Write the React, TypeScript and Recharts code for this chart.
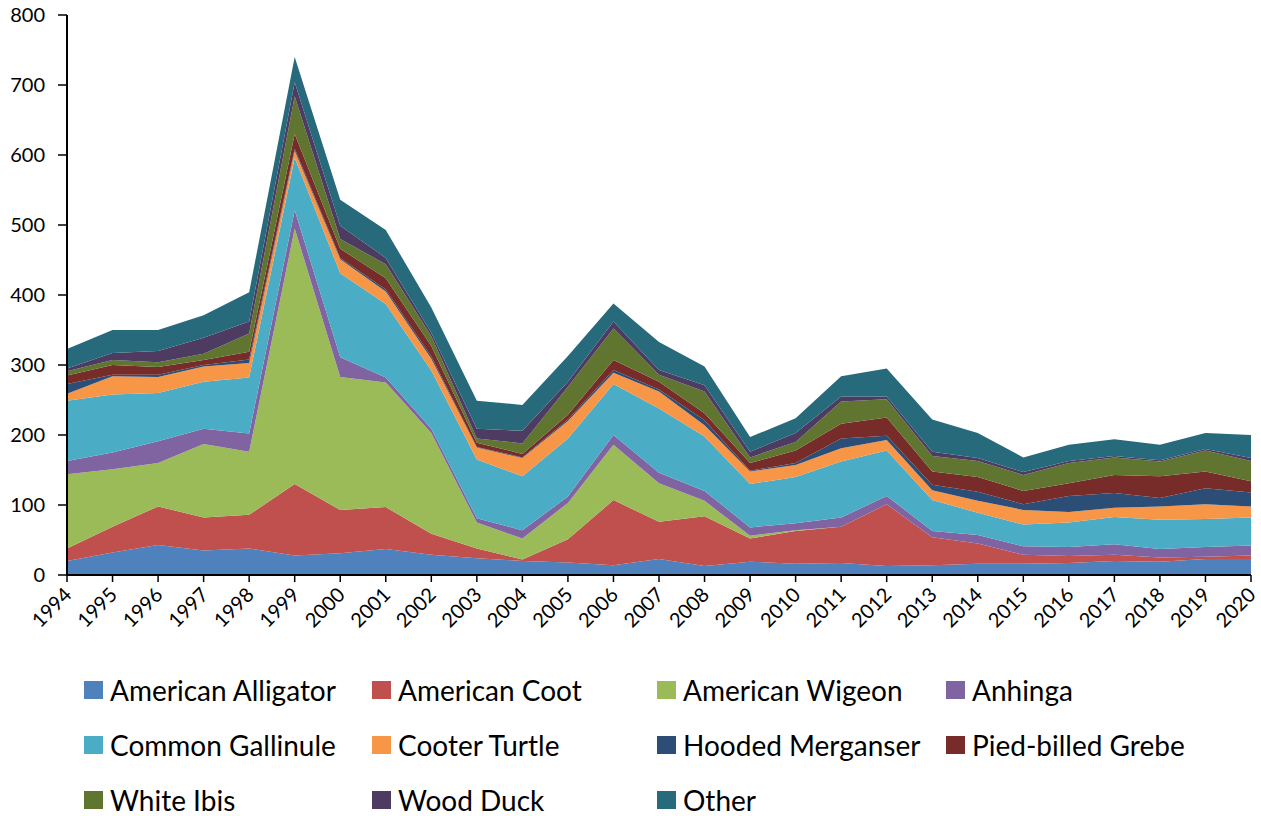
import { AreaChart, Area, XAxis, YAxis, Legend } from 'recharts'

const years = [
  1994, 1995, 1996, 1997, 1998, 1999, 2000, 2001, 2002, 2003, 2004, 2005, 2006,
  2007, 2008, 2009, 2010, 2011, 2012, 2013, 2014, 2015, 2016, 2017, 2018, 2019, 2020,
]

const alligator = [20, 32, 43, 35, 38, 28, 31, 37, 29, 24, 20, 18, 14, 23, 13, 19, 16, 17, 13, 14, 16, 16, 17, 20, 19, 23, 23]
const coot = [18, 37, 55, 47, 48, 102, 62, 60, 30, 14, 2, 33, 93, 53, 71, 33, 47, 52, 88, 40, 29, 13, 10, 9, 6, 3, 5]
const wigeon = [106, 82, 62, 105, 90, 365, 190, 178, 144, 37, 30, 52, 79, 55, 22, 4, 1, 0, 0, 0, 0, 0, 0, 0, 0, 0, 0]
const anhinga = [19, 24, 31, 22, 26, 26, 28, 7, 6, 6, 12, 9, 14, 15, 14, 12, 10, 13, 12, 9, 12, 12, 13, 15, 12, 14, 14]
const gallinule = [86, 83, 69, 67, 80, 75, 120, 105, 83, 84, 77, 83, 73, 92, 78, 62, 66, 80, 65, 44, 32, 31, 35, 39, 42, 40, 40]
const cooter = [10, 26, 23, 22, 21, 10, 20, 18, 17, 17, 26, 25, 16, 24, 16, 18, 17, 19, 15, 14, 17, 21, 15, 13, 19, 21, 16]
const merganser = [14, 2, 3, 2, 5, 3, 2, 3, 3, 1, 1, 2, 4, 3, 7, 1, 3, 14, 6, 8, 13, 8, 23, 21, 12, 23, 20]
const grebe = [12, 14, 11, 7, 11, 21, 13, 16, 15, 6, 5, 7, 14, 11, 10, 11, 18, 21, 26, 19, 21, 19, 18, 26, 31, 24, 16]
const ibis = [6, 7, 7, 9, 26, 54, 14, 20, 14, 6, 15, 40, 45, 10, 31, 8, 12, 32, 26, 22, 23, 23, 29, 25, 21, 30, 29]
const woodDuck = [4, 10, 16, 23, 17, 20, 19, 9, 5, 14, 18, 7, 10, 7, 9, 8, 13, 7, 4, 6, 4, 4, 3, 2, 2, 2, 4]
const other = [28, 33, 30, 32, 42, 36, 37, 40, 36, 40, 37, 37, 26, 40, 27, 21, 21, 29, 40, 46, 36, 21, 23, 24, 22, 23, 33]

const yTicks = [0, 100, 200, 300, 400, 500, 600, 700, 800]

const series = [
  { key: 'alligator', name: 'American Alligator', color: '#4F81BD', values: alligator },
  { key: 'coot', name: 'American Coot', color: '#C0504D', values: coot },
  { key: 'wigeon', name: 'American Wigeon', color: '#9BBB59', values: wigeon },
  { key: 'anhinga', name: 'Anhinga', color: '#8064A2', values: anhinga },
  { key: 'gallinule', name: 'Common Gallinule', color: '#4BACC6', values: gallinule },
  { key: 'cooter', name: 'Cooter Turtle', color: '#F79646', values: cooter },
  { key: 'merganser', name: 'Hooded Merganser', color: '#2C4D75', values: merganser },
  { key: 'grebe', name: 'Pied-billed Grebe', color: '#772C2A', values: grebe },
  { key: 'ibis', name: 'White Ibis', color: '#5F7530', values: ibis },
  { key: 'woodDuck', name: 'Wood Duck', color: '#4D3B62', values: woodDuck },
  { key: 'other', name: 'Other', color: '#276A7C', values: other },
]

const data = years.map((year, i) => {
  const row: Record<string, number> = { year }
  series.forEach((s) => {
    row[s.key] = s.values[i]
  })
  return row
})

const font = 'Lato, "Open Sans", sans-serif'

function YearTick({ x, y, payload }: any) {
  const ax = x + 6
  const ay = y + 12
  return (
    <text
      x={ax}
      y={ay}
      transform={`rotate(-45 ${ax} ${ay})`}
      textAnchor="end"
      fontSize={20}
      fontFamily={font}
      fill="#000"
    >
      {payload.value}
    </text>
  )
}

const legendCols = [84, 372, 657, 946]

function LegendBox() {
  return (
    <div style={{ position: 'relative', width: 1261, height: 160 }}>
      {series.map((s, i) => {
        const col = i % 4
        const row = Math.floor(i / 4)
        return (
          <div
            key={s.key}
            style={{
              position: 'absolute',
              left: legendCols[col],
              top: row * 55,
              height: 34,
              display: 'flex',
              alignItems: 'center',
              fontFamily: font,
              fontSize: 28,
              color: '#000',
              whiteSpace: 'nowrap',
            }}
          >
            <span
              style={{
                display: 'inline-block',
                width: 19,
                height: 18,
                background: s.color,
                marginRight: 7,
              }}
            />
            {s.name}
          </div>
        )
      })}
    </div>
  )
}

export default function App() {
  return (
    <div
      style={{
        position: 'absolute',
        left: 0,
        top: 0,
        width: 1261,
        height: 816,
        background: '#fff',
      }}
    >
      <AreaChart
        width={1261}
        height={816}
        data={data}
        margin={{ top: 15, right: 10, left: 0, bottom: 21 }}
      >
        <XAxis
          dataKey="year"
          tick={<YearTick />}
          tickSize={7}
          axisLine={{ stroke: '#000', strokeWidth: 2 }}
          tickLine={{ stroke: '#000', strokeWidth: 1.5 }}
          height={60}
          interval={0}
        />
        <YAxis
          width={67}
          domain={[0, 800]}
          ticks={yTicks}
          tickSize={9}
          tickMargin={13}
          axisLine={{ stroke: '#000', strokeWidth: 2 }}
          tickLine={{ stroke: '#000', strokeWidth: 1.5 }}
          tick={{ fill: '#000', fontSize: 20, fontFamily: font }}
        />
        {series.map((s) => (
          <Area
            key={s.key}
            type="linear"
            dataKey={s.key}
            name={s.name}
            stackId="1"
            fill={s.color}
            fillOpacity={1}
            stroke="none"
            isAnimationActive={false}
          />
        ))}
        <Legend
          content={<LegendBox />}
          wrapperStyle={{ position: 'absolute', left: 0, top: 673, width: 1261 }}
        />
      </AreaChart>
    </div>
  )
}
